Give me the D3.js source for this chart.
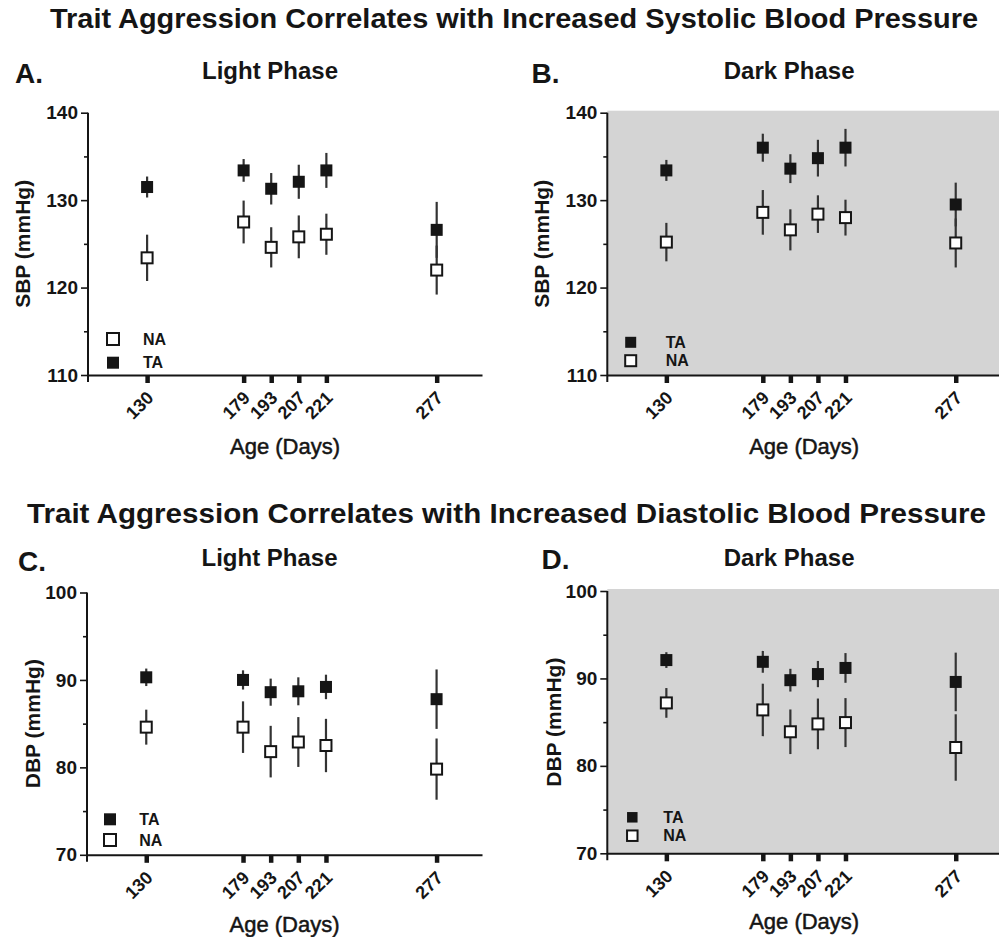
<!DOCTYPE html>
<meta charset="utf-8">
<style>
html, body{
  margin: 0;
  padding: 0;
  background: #fff;
}
svg{
  display: block;
  font-family: Arial, "Liberation Sans", sans-serif;
}
</style>
<body>
<script src="https://d3js.org/d3.v7.min.js"></script>
<script>

var width = 999,
    height = 937;

// ages (days) where BP was measured
var days = [130, 179, 193, 207, 221, 277];

var sbpTicks = [110, 120, 130, 140],
    sbpMinor = [115, 125, 135],
    dbpTicks = [70, 80, 90, 100],
    dbpMinor = [75, 85, 95];

// systolic, light phase
var sbpLightTA    = [131.5, 133.4, 131.3, 132.1, 133.4, 126.6],
    sbpLightTAerr = [1.2, 1.3, 1.8, 1.95, 2.0, 3.2],
    sbpLightNA    = [123.4, 127.5, 124.6, 125.8, 126.1, 122.0],
    sbpLightNAerr = [2.65, 2.45, 2.3, 2.45, 2.35, 2.8];

// systolic, dark phase
var sbpDarkTA    = [133.4, 136.0, 133.6, 134.8, 136.0, 129.5],
    sbpDarkTAerr = [1.2, 1.6, 1.65, 2.1, 2.15, 2.5],
    sbpDarkNA    = [125.2, 128.6, 126.6, 128.4, 128.0, 125.1],
    sbpDarkNAerr = [2.2, 2.55, 2.35, 2.15, 2.05, 2.8];

// diastolic, light phase
var dbpLightTA    = [90.3, 90.0, 88.6, 88.7, 89.2, 87.8],
    dbpLightTAerr = [1.0, 1.1, 1.55, 1.6, 1.4, 3.4],
    dbpLightNA    = [84.6, 84.6, 81.8, 82.9, 82.5, 79.8],
    dbpLightNAerr = [2.0, 2.95, 2.95, 2.85, 3.05, 3.5];

// diastolic, dark phase
var dbpDarkTA    = [92.1, 91.9, 89.8, 90.5, 91.2, 89.6],
    dbpDarkTAerr = [0.9, 1.25, 1.3, 1.5, 1.7, 3.35],
    dbpDarkNA    = [87.2, 86.4, 83.9, 84.8, 84.95, 82.1],
    dbpDarkNAerr = [1.7, 3.0, 2.55, 2.9, 2.8, 3.8];

var ink = "#151515",
    darkBg = "#d4d4d4";

var panels = [
  {letter:"A.", title:"Light Phase", ylab:"SBP (mmHg)", dark:false,
   x0:88, x1:482, top:112.7, bot:375, dom:[110,140], ticks:sbpTicks, minor:sbpMinor,
   ta:sbpLightTA, taErr:sbpLightTAerr, na:sbpLightNA, naErr:sbpLightNAerr,
   letterX:15, letterY:83, titleY:79, ylabX:23, xlabY:454,
   legend:{x:113, tx:143, rows:[["NA",339],["TA",362.7]], size:12}},
  {letter:"B.", title:"Dark Phase", ylab:"SBP (mmHg)", dark:true,
   x0:607.3, x1:1001, top:112.7, bot:375, dom:[110,140], ticks:sbpTicks, minor:sbpMinor,
   ta:sbpDarkTA, taErr:sbpDarkTAerr, na:sbpDarkNA, naErr:sbpDarkNAerr,
   letterX:531.5, letterY:83, titleY:79, ylabX:542, xlabY:454,
   legend:{x:630.7, tx:665.7, rows:[["TA",342.3],["NA",360.7]], size:11}},
  {letter:"C.", title:"Light Phase", ylab:"DBP (mmHg)", dark:false,
   x0:87, x1:482, top:592.5, bot:854.8, dom:[70,100], ticks:dbpTicks, minor:dbpMinor,
   ta:dbpLightTA, taErr:dbpLightTAerr, na:dbpLightNA, naErr:dbpLightNAerr,
   letterX:18, letterY:570.5, titleY:566, ylabX:33, xlabY:932,
   legend:{x:110, tx:139.3, rows:[["TA",819.3],["NA",840]], size:12}},
  {letter:"D.", title:"Dark Phase", ylab:"DBP (mmHg)", dark:true,
   x0:607.3, x1:1001, top:591, bot:853.3, dom:[70,100], ticks:dbpTicks, minor:dbpMinor,
   ta:dbpDarkTA, taErr:dbpDarkTAerr, na:dbpDarkNA, naErr:dbpDarkNAerr,
   letterX:541.5, letterY:569, titleY:566, ylabX:553.5, xlabY:929,
   legend:{x:632.3, tx:663.3, rows:[["TA",817.3],["NA",835.7]], size:10.5}}
];

var svg = d3.select("body").append("svg")
    .attr("width", width)
    .attr("height", height);

svg.append("text")
    .attr("x", 50).attr("y", 28)
    .attr("font-size", 27).attr("font-weight", "bold").attr("fill", ink)
    .attr("textLength", 928).attr("lengthAdjust", "spacingAndGlyphs")
    .text("Trait Aggression Correlates with Increased Systolic Blood Pressure");

svg.append("text")
    .attr("x", 27).attr("y", 523)
    .attr("font-size", 27).attr("font-weight", "bold").attr("fill", ink)
    .attr("textLength", 959).attr("lengthAdjust", "spacingAndGlyphs")
    .text("Trait Aggression Correlates with Increased Diastolic Blood Pressure");

panels.forEach(drawPanel);

function drawPanel(p){
  var g = svg.append("g");

  var x = d3.scaleLinear().domain([100, 300]).range([p.x0, p.x1]);
  var y = d3.scaleLinear().domain(p.dom).range([p.bot, p.top]);

  if(p.dark){
    g.append("rect")
      .attr("x", p.x0).attr("y", p.top - 2)
      .attr("width", p.x1 - p.x0).attr("height", p.bot - p.top + 2)
      .attr("fill", darkBg);
  }

  g.append("text")
    .attr("x", p.letterX).attr("y", p.letterY)
    .attr("font-size", 28).attr("font-weight", "bold").attr("fill", ink)
    .text(p.letter);

  g.append("text")
    .attr("x", (p.x0 + p.x1) / 2 - 15).attr("y", p.titleY)
    .attr("text-anchor", "middle")
    .attr("font-size", 24).attr("font-weight", "bold").attr("fill", ink)
    .text(p.title);

  // y axis, major + minor ticks
  var yAxis = g.append("g")
    .attr("transform", "translate(" + p.x0 + ",0)")
    .call(d3.axisLeft(y).tickValues(p.ticks).tickSize(7).tickSizeOuter(0).tickPadding(3));
  yAxis.selectAll("text")
    .attr("font-size", 19).attr("font-weight", "bold").attr("fill", ink)
    .attr("font-family", null);
  yAxis.selectAll("line").attr("stroke", ink).attr("stroke-width", 1.6);
  yAxis.select(".domain").remove();

  var yMinor = g.append("g")
    .attr("transform", "translate(" + p.x0 + ",0)")
    .call(d3.axisLeft(y).tickValues(p.minor).tickSize(4).tickFormat(""));
  yMinor.selectAll("line").attr("stroke", ink).attr("stroke-width", 1.6);
  yMinor.select(".domain").remove();

  g.append("line")
    .attr("x1", p.x0).attr("x2", p.x0)
    .attr("y1", p.top).attr("y2", p.bot + 7)
    .attr("stroke", ink).attr("stroke-width", 2);

  // x axis: only the measurement days are ticked
  var xAxis = g.append("g")
    .attr("transform", "translate(0," + p.bot + ")")
    .call(d3.axisBottom(x).tickValues(days).tickSize(8).tickSizeOuter(0));
  xAxis.select(".domain").attr("stroke", ink).attr("stroke-width", 2);
  xAxis.selectAll(".tick line").attr("stroke", ink).attr("stroke-width", 4.5);
  xAxis.selectAll(".tick text")
    .attr("x", 0).attr("y", 0).attr("dy", 0)
    .attr("text-anchor", "end")
    .attr("transform", "translate(7,24) rotate(-45)")
    .attr("font-size", 18).attr("font-weight", "bold").attr("fill", ink)
    .attr("font-family", null);

  g.append("text")
    .attr("transform", "translate(" + p.ylabX + "," + (p.top + p.bot) / 2 + ") rotate(-90)")
    .attr("text-anchor", "middle").attr("dy", "0.35em")
    .attr("font-size", 21).attr("font-weight", "bold").attr("fill", ink)
    .text(p.ylab);

  g.append("text")
    .attr("x", (p.x0 + p.x1) / 2).attr("y", p.xlabY)
    .attr("text-anchor", "middle")
    .attr("font-size", 22).attr("fill", ink)
    .attr("stroke", ink).attr("stroke-width", 0.5)
    .text("Age (Days)");

  drawSeries(g, x, y, p.ta, p.taErr, true);
  drawSeries(g, x, y, p.na, p.naErr, false);

  // legend
  var leg = p.legend;
  leg.rows.forEach(function(r){
    var filled = r[0] == "TA";
    var s = leg.size;
    g.append("rect")
      .attr("x", leg.x - s / 2).attr("y", r[1] - s / 2)
      .attr("width", s).attr("height", s)
      .attr("fill", filled ? ink : "#fff")
      .attr("stroke", ink).attr("stroke-width", filled ? 0 : 2);
    g.append("text")
      .attr("x", leg.tx).attr("y", r[1]).attr("dy", "0.36em")
      .attr("font-size", 16).attr("font-weight", "bold").attr("fill", ink)
      .text(r[0]);
  });
}

function drawSeries(g, x, y, vals, errs, filled){
  var pts = days.map(function(d, i){ return {day:d, v:vals[i], e:errs[i]}; });
  var s = g.append("g");

  s.selectAll("line.err")
    .data(pts)
    .enter().append("line")
    .attr("class", "err")
    .attr("x1", function(d){ return x(d.day); })
    .attr("x2", function(d){ return x(d.day); })
    .attr("y1", function(d){ return y(d.v + d.e); })
    .attr("y2", function(d){ return y(d.v - d.e); })
    .attr("stroke", "#333").attr("stroke-width", 2.2);

  var size = filled ? 12 : 11;
  s.selectAll("rect")
    .data(pts)
    .enter().append("rect")
    .attr("x", function(d){ return x(d.day) - size / 2; })
    .attr("y", function(d){ return y(d.v) - size / 2; })
    .attr("width", size).attr("height", size)
    .attr("fill", filled ? ink : "#fff")
    .attr("stroke", ink).attr("stroke-width", filled ? 0 : 2);
}

</script>
</body>
